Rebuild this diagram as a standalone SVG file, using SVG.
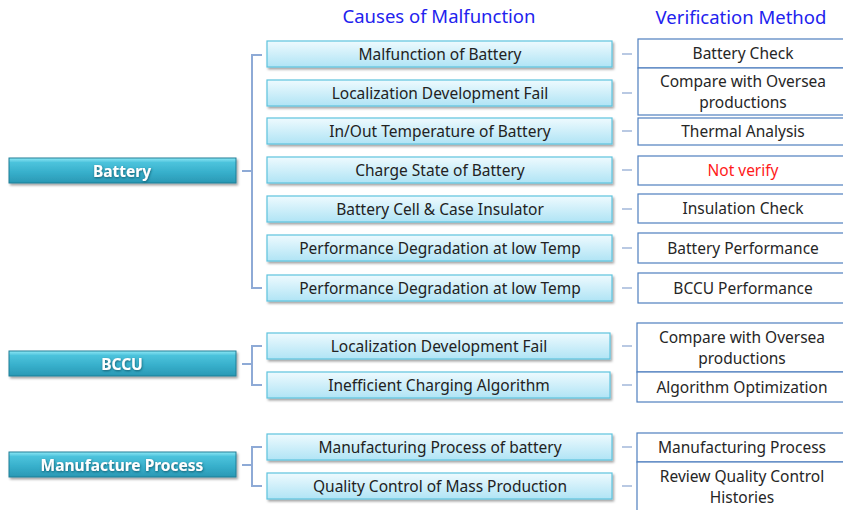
<svg xmlns="http://www.w3.org/2000/svg" width="843" height="510" viewBox="0 0 843 510">
  <defs>
    <linearGradient id="gCat" x1="0" y1="0" x2="0" y2="1">
      <stop offset="0" stop-color="#8ee8f6"/>
      <stop offset="0.18" stop-color="#4cc3dc"/>
      <stop offset="0.6" stop-color="#36aeca"/>
      <stop offset="1" stop-color="#2a98b4"/>
    </linearGradient>
    <linearGradient id="gCause" x1="0" y1="0" x2="0" y2="1">
      <stop offset="0" stop-color="#eefafe"/>
      <stop offset="1" stop-color="#b0e4f5"/>
    </linearGradient>
    <filter id="sh" x="-5%" y="-30%" width="110%" height="170%">
      <feDropShadow dx="1.5" dy="2" stdDeviation="1.2" flood-color="#000" flood-opacity="0.35"/>
    </filter>
    <filter id="tsh" x="-10%" y="-40%" width="120%" height="180%">
      <feDropShadow dx="0.5" dy="1" stdDeviation="0.8" flood-color="#0a4a5a" flood-opacity="0.8"/>
    </filter>
  </defs>
  <style>
    .hdr { font-family: "Noto Sans", "Open Sans", sans-serif; font-size: 18.5px; fill: #2222ee; text-anchor: middle; }
    .cat rect.body { fill: url(#gCat); stroke: #1f7f96; stroke-width: 1; }
    .cat text { font-family: "Noto Sans", "Open Sans", sans-serif; font-size: 15.5px; font-weight: bold; fill: #ffffff; text-anchor: middle; }
    .cause rect { fill: url(#gCause); stroke: #5ec3de; stroke-width: 1.2; }
    .cause text { font-family: "Noto Sans", "Open Sans", sans-serif; font-size: 15.5px; fill: #222222; text-anchor: middle; }
    .verify rect { fill: #ffffff; stroke: #4f7fbf; stroke-width: 1.2; }
    .verify text { font-family: "Noto Sans", "Open Sans", sans-serif; font-size: 15.5px; fill: #262626; text-anchor: middle; }
    .verify text.red { fill: #ff1a1a; }
    .conn path { fill: none; stroke: #8eaad6; stroke-width: 2; }
    .conn line { stroke: #a8bcdc; stroke-width: 1.6; }
  </style>

  <!-- column headings -->
  <text class="hdr" x="439" y="23">Causes of Malfunction</text>
  <text class="hdr" x="741" y="24">Verification Method</text>

  <!-- connectors: brackets and dashes -->
  <g id="connectors" class="conn">
    <path d="M242,171 H252 M262,55 H252 V288 H262"/>
    <path d="M242,364 H252 M262,346 H252 V385 H262"/>
    <path d="M242,465 H252 M262,447 H252 V486 H262"/>
    <line x1="622" y1="54" x2="632" y2="54"/>
    <line x1="622" y1="93" x2="632" y2="93"/>
    <line x1="622" y1="131" x2="632" y2="131"/>
    <line x1="622" y1="170" x2="632" y2="170"/>
    <line x1="622" y1="209" x2="632" y2="209"/>
    <line x1="622" y1="248" x2="632" y2="248"/>
    <line x1="622" y1="288" x2="632" y2="288"/>
    <line x1="622" y1="346" x2="632" y2="346"/>
    <line x1="622" y1="385" x2="632" y2="385"/>
    <line x1="622" y1="447" x2="632" y2="447"/>
    <line x1="622" y1="486" x2="632" y2="486"/>
  </g>

  <!-- categories -->
  <g id="cat-battery" class="cat">
    <rect class="body" x="9" y="158" width="227" height="25" filter="url(#sh)"/>
    <text x="122" y="176.5" filter="url(#tsh)">Battery</text>
  </g>
  <g id="cat-bccu" class="cat">
    <rect class="body" x="9" y="351" width="227" height="25" filter="url(#sh)"/>
    <text x="122" y="369.5" filter="url(#tsh)">BCCU</text>
  </g>
  <g id="cat-manufacture" class="cat">
    <rect class="body" x="9" y="452" width="227" height="25" filter="url(#sh)"/>
    <text x="122" y="470.5" filter="url(#tsh)">Manufacture Process</text>
  </g>

  <!-- causes -->
  <g id="cause-1" class="cause"><rect x="267" y="41" width="345" height="26" filter="url(#sh)"/><text x="440" y="59.5">Malfunction of Battery</text></g>
  <g id="cause-2" class="cause"><rect x="267" y="80" width="345" height="26" filter="url(#sh)"/><text x="440" y="98.5">Localization Development Fail</text></g>
  <g id="cause-3" class="cause"><rect x="267" y="118" width="345" height="26" filter="url(#sh)"/><text x="440" y="136.5">In/Out  Temperature of Battery</text></g>
  <g id="cause-4" class="cause"><rect x="267" y="157" width="345" height="26" filter="url(#sh)"/><text x="440" y="175.5">Charge State of Battery</text></g>
  <g id="cause-5" class="cause"><rect x="267" y="196" width="345" height="26" filter="url(#sh)"/><text x="440" y="214.5">Battery Cell &amp; Case Insulator</text></g>
  <g id="cause-6" class="cause"><rect x="267" y="235" width="345" height="26" filter="url(#sh)"/><text x="440" y="253.5">Performance Degradation at low Temp</text></g>
  <g id="cause-7" class="cause"><rect x="267" y="275" width="345" height="26" filter="url(#sh)"/><text x="440" y="293.5">Performance Degradation at low Temp</text></g>
  <g id="cause-8" class="cause"><rect x="267" y="333" width="343" height="26" filter="url(#sh)"/><text x="439" y="351.5">Localization Development Fail</text></g>
  <g id="cause-9" class="cause"><rect x="267" y="372" width="343" height="26" filter="url(#sh)"/><text x="439" y="390.5">Inefficient Charging Algorithm</text></g>
  <g id="cause-10" class="cause"><rect x="267" y="434" width="345" height="26" filter="url(#sh)"/><text x="440" y="452.5">Manufacturing Process of battery</text></g>
  <g id="cause-11" class="cause"><rect x="267" y="473" width="345" height="26" filter="url(#sh)"/><text x="440" y="491.5">Quality Control of Mass Production</text></g>

  <!-- verification methods -->
  <g id="verify-1" class="verify"><rect x="638" y="39" width="215" height="29"/><text x="743" y="59">Battery Check</text></g>
  <g id="verify-2" class="verify"><rect x="638" y="68" width="215" height="47"/><text x="743" y="87">Compare with Oversea</text><text x="743" y="108">productions</text></g>
  <g id="verify-3" class="verify"><rect x="638" y="118" width="215" height="27"/><text x="743" y="136.5">Thermal Analysis</text></g>
  <g id="verify-4" class="verify"><rect x="638" y="156" width="215" height="29"/><text class="red" x="743" y="176">Not verify</text></g>
  <g id="verify-5" class="verify"><rect x="638" y="194" width="215" height="29"/><text x="743" y="214">Insulation Check</text></g>
  <g id="verify-6" class="verify"><rect x="638" y="233" width="215" height="30"/><text x="743" y="253.5">Battery Performance</text></g>
  <g id="verify-7" class="verify"><rect x="638" y="273" width="215" height="30"/><text x="743" y="293.5">BCCU Performance</text></g>
  <g id="verify-8" class="verify"><rect x="637" y="323" width="216" height="49"/><text x="742" y="343">Compare with Oversea</text><text x="742" y="364">productions</text></g>
  <g id="verify-9" class="verify"><rect x="637" y="372" width="216" height="30"/><text x="742" y="392.5">Algorithm Optimization</text></g>
  <g id="verify-10" class="verify"><rect x="637" y="433" width="216" height="29"/><text x="742" y="453">Manufacturing  Process</text></g>
  <g id="verify-11" class="verify"><rect x="637" y="462" width="216" height="60"/><text x="742" y="482">Review Quality Control</text><text x="742" y="503">Histories</text></g>
</svg>
